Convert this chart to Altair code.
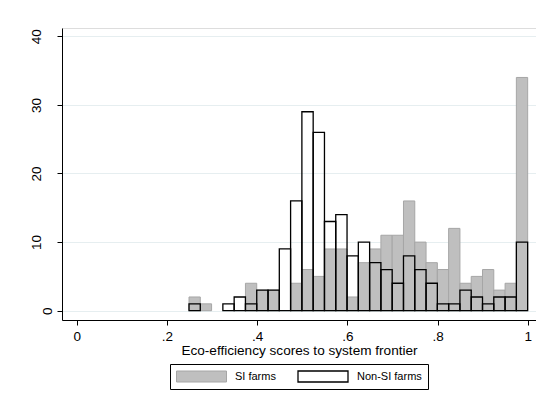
import altair as alt
import pandas as pd

# ---- data ----
bin_start = 0.249
bin_width = 0.02503
si_counts = [2, 1, 0, 0, 0, 4, 3, 3, 0, 4, 6, 5, 9, 9, 2, 7, 9, 11, 11, 16,
             10, 7, 6, 12, 4, 5, 6, 3, 4, 34]
nonsi_counts = [1, 0, 0, 1, 2, 1, 3, 3, 9, 16, 29, 26, 13, 14, 8, 10, 7, 6, 4, 8,
                6, 4, 1, 1, 3, 2, 1, 2, 2, 10]
groups = ["SI farms", "Non-SI farms"]
x_ticks = [0, 0.2, 0.4, 0.6, 0.8, 1]
y_ticks = [0, 10, 20, 30, 40]
x_title = "Eco-efficiency scores to system frontier"

rows = []
for g, counts in zip(groups, [si_counts, nonsi_counts]):
    for i, c in enumerate(counts):
        if c > 0:
            lo = bin_start + i * bin_width
            rows.append({"group": g, "lo": lo, "hi": lo + bin_width, "count": c})
df = pd.DataFrame(rows)

FONT = "Liberation Sans"

legend = alt.Legend(
    orient="none", legendX=108, legendY=336, direction="horizontal", title=None,
    symbolType="M-1,-0.22H1V0.22H-1Z", symbolSize=2500, symbolStrokeWidth=1,
    labelFont=FONT, labelFontSize=11, labelColor="black", labelOffset=8,
    columnPadding=21, padding=6, strokeColor="black", clipHeight=13,
)

chart = alt.Chart(df).mark_bar().encode(
    x=alt.X("lo:Q",
            scale=alt.Scale(domain=[-0.0326, 1.0184], nice=False, zero=False),
            axis=alt.Axis(values=x_ticks, title=x_title, grid=False,
                          labelExpr="datum.value == 0 ? '0' : datum.value == 1 ? '1' : replace(format(datum.value, '.1f'), '0.', '.')",
                          labelFont=FONT, labelFontSize=13.5, labelColor="black",
                          labelPadding=4, tickSize=5, tickColor="black",
                          domainColor="black", titleFont=FONT, titleFontSize=13.6,
                          titleFontWeight="normal", titleColor="black",
                          titlePadding=1, labelFlush=False)),
    x2="hi:Q",
    y=alt.Y("count:Q", stack=None,
            scale=alt.Scale(domain=[-1.356, 41.21], nice=False, zero=False),
            axis=alt.Axis(values=y_ticks, title=None, grid=True,
                          gridColor="#e6eef0", gridWidth=1,
                          labelAngle=270, labelAlign="center", labelBaseline="bottom",
                          labelPadding={"condition": {"test": "datum.value == 0", "value": 3}, "value": 14},
                          labelFont=FONT, labelFontSize=13.5, labelColor="black",
                          tickSize=5, tickColor="black", domainColor="black")),
    y2=alt.datum(0),
    fill=alt.Fill("group:N", scale=alt.Scale(domain=groups, range=["#bfbfbf", "transparent"]),
                  legend=legend),
    stroke=alt.Stroke("group:N", scale=alt.Scale(domain=groups, range=["#a6a6a6", "black"]),
                      legend=legend),
    strokeWidth=alt.StrokeWidth("group:N", scale=alt.Scale(domain=groups, range=[1, 1.3]),
                                legend=None),
).properties(
    width=474, height=292,
    autosize=alt.AutoSizeParams(type="none"),
    padding={"left": 54, "top": 20, "right": 0, "bottom": 73},
).configure_view(stroke=None).configure(background="white")

chart.save("out.html", embed_options={"renderer": "svg", "actions": False})
